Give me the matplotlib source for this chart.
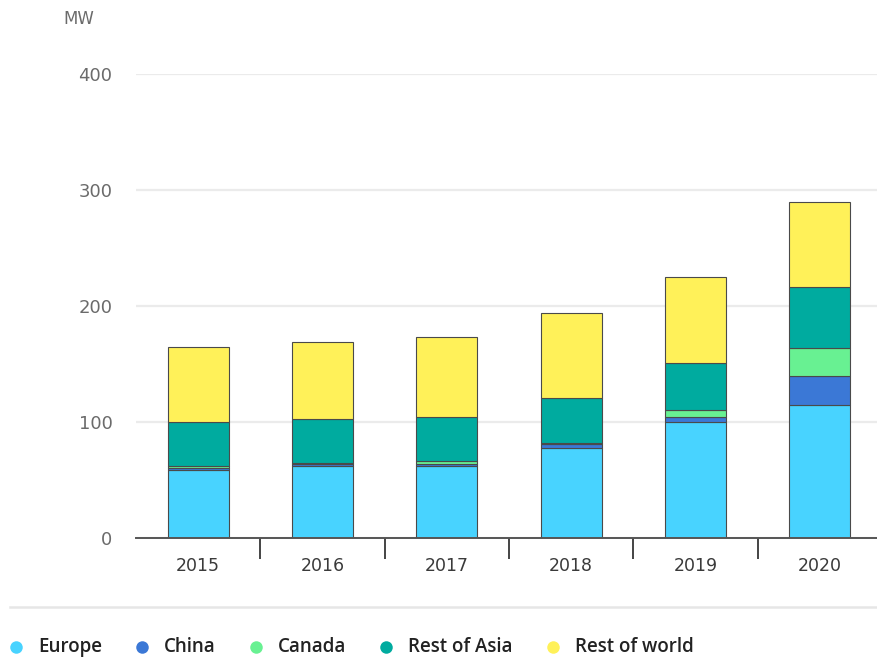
import matplotlib
matplotlib.use("Agg")
import matplotlib.pyplot as plt
from matplotlib.lines import Line2D
import numpy as np

years = ["2015", "2016", "2017", "2018", "2019", "2020"]
europe = [59, 62, 62, 78, 100, 115]
china = [1, 2, 2, 3, 4, 25]
canada = [2, 1, 2, 1, 6, 24]
rest_of_asia = [38, 38, 38, 39, 41, 52]
rest_of_world = [65, 66, 69, 73, 74, 74]

series_names = ["Europe", "China", "Canada", "Rest of Asia", "Rest of world"]
series_values = [europe, china, canada, rest_of_asia, rest_of_world]
colors = ["#48D3FF", "#3B78D6", "#68F192", "#00AB9F", "#FFF159"]
y_ticks = [0, 100, 200, 300, 400]

plt.rcParams["font.family"] = ["DejaVu Sans"]

W, H = 878, 659
fig = plt.figure(figsize=(W / 100, H / 100), dpi=100)
ax = fig.add_axes([136 / W, 1 - 538 / H, 746 / W, (538 - 74) / H])

x = np.arange(len(years))
bottom = np.zeros(len(years))
for name, vals, c in zip(series_names, series_values, colors):
    vals = np.array(vals, dtype=float)
    ax.bar(x, vals, width=0.49, bottom=bottom, color=c, edgecolor="#4a4a4a",
           linewidth=0.8, zorder=3)
    bottom += vals

ax.set_xlim(-0.5, len(years) - 0.5)
ax.set_ylim(0, 400)
ax.set_yticks(y_ticks)
ax.set_yticklabels([str(t) for t in y_ticks])
ax.tick_params(axis="y", length=0, pad=17, labelsize=13, labelcolor="#6b6b6b")
ax.yaxis.grid(True, color="#ebebeb", linewidth=1.6, zorder=0)
for s in ["left", "right", "top"]:
    ax.spines[s].set_visible(False)
ax.spines["bottom"].set_color("#555555")
ax.spines["bottom"].set_linewidth(1.4)
ax.spines["bottom"].set_zorder(4)

# category labels centred under bars, tick marks between categories
ax.set_xticks(x)
ax.set_xticklabels(years)
ax.tick_params(axis="x", length=0, pad=14, labelsize=12.5, labelcolor="#3a3a3a")
ax.set_xticks(np.arange(0.5, len(years) - 1, 1.0), minor=True)
ax.tick_params(axis="x", which="minor", length=15, width=1.4, color="#444444")

fig.text(63 / W, 1 - 19 / H, "MW", fontsize=12, color="#6b6b6b", va="center", ha="left")

# separator above the legend
fig.add_artist(Line2D([10 / W, 1.0], [1 - 607 / H, 1 - 607 / H], color="#e6e6e6",
                      linewidth=1.8))

# legend row
fig.canvas.draw()
renderer = fig.canvas.get_renderer()
ly = 1 - 647 / H
cx = 16
for name, c in zip(series_names, colors):
    fig.add_artist(Line2D([cx / W], [ly], marker="o", markersize=9, color=c,
                          markeredgewidth=0, linestyle="none"))
    t = fig.text((cx + 22) / W, ly, name, fontsize=13.5, color="#222222",
                 va="center", ha="left", family=["Open Sans", "DejaVu Sans"],
                 fontweight="semibold")
    bb = t.get_window_extent(renderer)
    cx = bb.x1 + 40

fig.savefig("out.png", dpi=100)
